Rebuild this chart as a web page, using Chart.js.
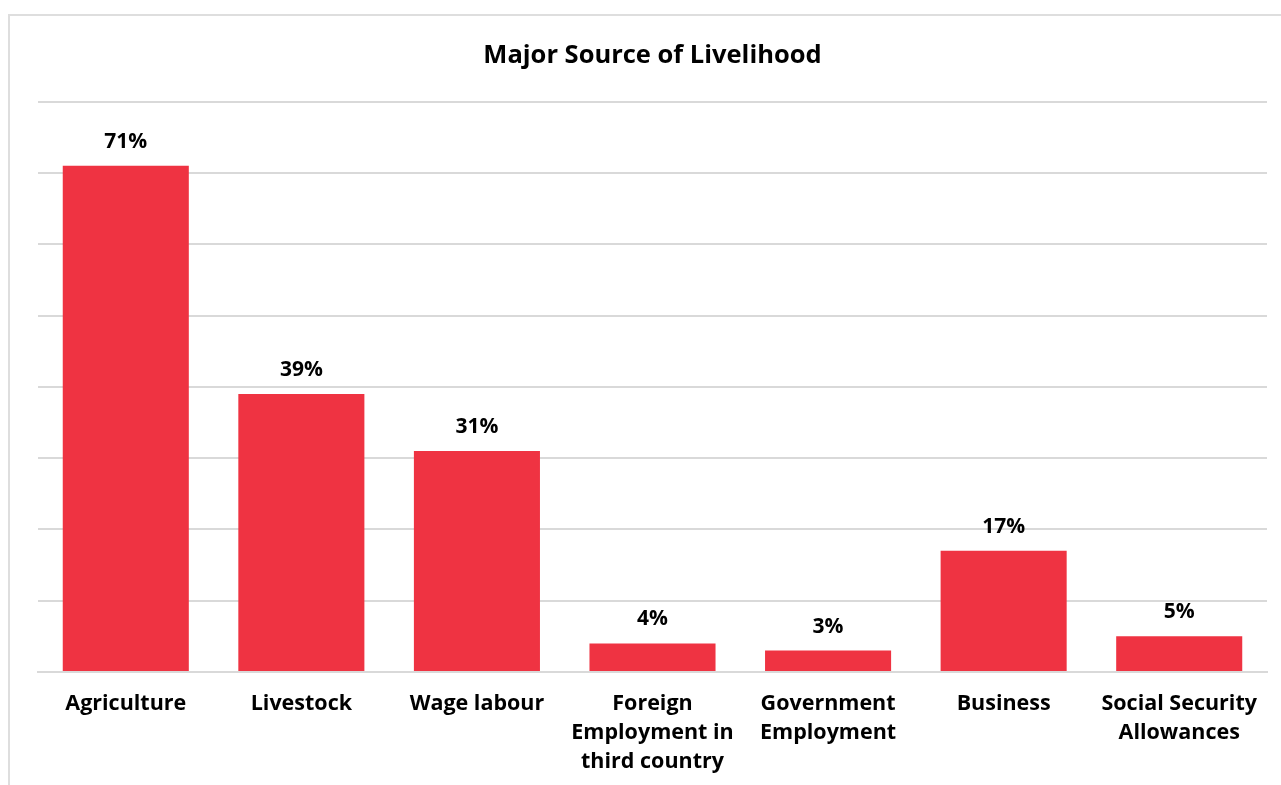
<!DOCTYPE html>
<html>
<head>
<meta charset="utf-8">
<title>Major Source of Livelihood</title>
<script src="https://cdn.jsdelivr.net/npm/chart.js@4/dist/chart.umd.min.js"></script>
<style>
    html, body {
        margin: 0;
        padding: 0;
        background: #ffffff;
        overflow: hidden;
    }
    .frame {
        position: absolute;
        left: 8px;
        top: 14px;
        width: 1300px;
        height: 800px;
        border: 2px solid #dedede;
        box-sizing: border-box;
    }
    .chart-box {
        position: absolute;
        left: 0;
        top: 0;
        width: 1281px;
        height: 785px;
    }
</style>
</head>
<body>
<div class="frame"></div>
<div class="chart-box"><canvas id="livelihoodChart"></canvas></div>
<script>
// --- Data ---
const categories = [
    'Agriculture',
    'Livestock',
    'Wage labour',
    ['Foreign', 'Employment in', 'third country'],
    ['Government', 'Employment'],
    'Business',
    ['Social Security', 'Allowances']
];
const sharePercent = [71, 39, 31, 4, 3, 17, 5];
const axisMax = 80;
const axisStep = 10;

// --- Styles ---
const barColor = '#EF3342';
const gridColor = '#d9d9d9';
const textColor = '#000000';
const fontFamily = "'Open Sans', 'Noto Sans', sans-serif";

// Percent labels above each bar
const valueLabels = {
    id: 'valueLabels',
    afterDatasetsDraw(chart) {
        const ctx = chart.ctx;
        const meta = chart.getDatasetMeta(0);
        ctx.save();
        ctx.font = `bold 21px ${fontFamily}`;
        ctx.fillStyle = textColor;
        ctx.textAlign = 'center';
        ctx.textBaseline = 'alphabetic';
        meta.data.forEach((bar, i) => {
            ctx.fillText(sharePercent[i] + '%', bar.x, bar.y - 18);
        });
        ctx.restore();
    }
};

const ctx = document.getElementById('livelihoodChart');

new Chart(ctx, {
    type: 'bar',
    data: {
        labels: categories,
        datasets: [{
            data: sharePercent,
            backgroundColor: barColor,
            borderWidth: 0,
            barPercentage: 0.718,
            categoryPercentage: 1
        }]
    },
    options: {
        responsive: true,
        maintainAspectRatio: false,
        animation: false,
        layout: {
            padding: { left: 38, right: 14, top: 0, bottom: 0 }
        },
        plugins: {
            legend: { display: false },
            tooltip: { enabled: false },
            title: {
                display: true,
                text: 'Major Source of Livelihood',
                color: textColor,
                font: { family: fontFamily, size: 25.5, weight: 'bold', lineHeight: 1.2 },
                padding: { top: 40, bottom: 31 }
            }
        },
        scales: {
            x: {
                grid: { display: false, drawTicks: false },
                border: { display: true, color: gridColor, width: 2 },
                ticks: {
                    color: textColor,
                    padding: 17,
                    maxRotation: 0,
                    autoSkip: false,
                    font: { family: fontFamily, size: 21.5, weight: 'bold', lineHeight: 1.35 }
                },
                afterFit(scale) {
                    scale.height = 113;
                }
            },
            y: {
                min: 0,
                max: axisMax,
                grid: { color: gridColor, lineWidth: 2, drawTicks: false },
                border: { display: false },
                ticks: { display: false, stepSize: axisStep },
                afterFit(scale) {
                    scale.width = 0;
                }
            }
        }
    },
    plugins: [valueLabels]
});
</script>
</body>
</html>
